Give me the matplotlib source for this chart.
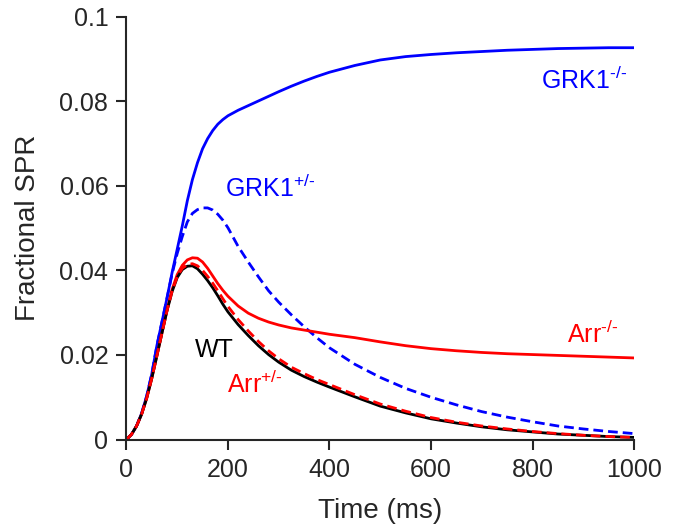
import matplotlib
matplotlib.use("Agg")
import matplotlib.pyplot as plt

plt.rcParams["font.family"] = ["Liberation Sans", "DejaVu Sans"]
plt.rcParams["mathtext.fontset"] = "custom"
plt.rcParams["mathtext.rm"] = "Liberation Sans"
plt.rcParams["mathtext.it"] = "Liberation Sans"

# time points (ms)
t = [0, 10, 20, 30, 40, 50, 60, 70, 80, 90, 100, 110, 120, 130, 140, 150, 160,
     170, 180, 190, 200, 220, 240, 260, 280, 300, 325, 350, 375, 400, 450, 500,
     550, 600, 650, 700, 750, 800, 850, 900, 950, 1000]

grk1_ko = [0, 0.0012, 0.0032, 0.0062, 0.0103, 0.0155, 0.0222, 0.0278, 0.0335,
           0.0395, 0.0450, 0.0505, 0.0565, 0.0615, 0.0655, 0.0688, 0.0712,
           0.0731, 0.0746, 0.0757, 0.0766, 0.0779, 0.0790, 0.0801, 0.0812,
           0.0823, 0.0836, 0.0848, 0.0859, 0.0869, 0.0885, 0.0898, 0.0906,
           0.0911, 0.0915, 0.0918, 0.0921, 0.0923, 0.0925, 0.0926, 0.0927,
           0.0927]

grk1_het = [0, 0.0012, 0.0032, 0.0062, 0.0103, 0.0155, 0.0222, 0.0278, 0.0335,
            0.0392, 0.0440, 0.0480, 0.0515, 0.0535, 0.0544, 0.0548, 0.0548,
            0.0543, 0.0533, 0.0519, 0.0501, 0.0457, 0.0420, 0.0385, 0.0352,
            0.0325, 0.0295, 0.0267, 0.0241, 0.0217, 0.0178, 0.0147, 0.0121,
            0.0100, 0.0082, 0.0066, 0.0053, 0.0042, 0.0032, 0.0025, 0.0019,
            0.0014]

wt = [0, 0.0012, 0.0032, 0.0060, 0.0098, 0.0145, 0.0198, 0.0252, 0.0305,
      0.0350, 0.0383, 0.0402, 0.0410, 0.0411, 0.0404, 0.0391, 0.0376, 0.0359,
      0.0340, 0.0320, 0.0302, 0.0272, 0.0246, 0.0222, 0.0201, 0.0183, 0.0164,
      0.0149, 0.0136, 0.0124, 0.0101, 0.0079, 0.0063, 0.0049, 0.0039, 0.0030,
      0.0023, 0.0018, 0.0013, 0.0010, 0.0007, 0.0005]

arr_het = [0, 0.0012, 0.0032, 0.0060, 0.0098, 0.0145, 0.0198, 0.0252, 0.0305,
           0.0351, 0.0385, 0.0405, 0.0414, 0.0416, 0.0411, 0.0400, 0.0386,
           0.0370, 0.0352, 0.0333, 0.0315, 0.0284, 0.0257, 0.0232, 0.0210,
           0.0191, 0.0171, 0.0156, 0.0142, 0.0130, 0.0106, 0.0084, 0.0067,
           0.0052, 0.0041, 0.0032, 0.0025, 0.0019, 0.0014, 0.0010, 0.0007,
           0.0005]

arr_ko = [0, 0.0012, 0.0032, 0.0060, 0.0098, 0.0145, 0.0198, 0.0252, 0.0306,
          0.0355, 0.0390, 0.0412, 0.0425, 0.0430, 0.0429, 0.0420, 0.0405,
          0.0387, 0.0369, 0.0353, 0.0339, 0.0316, 0.0299, 0.0287, 0.0278,
          0.0271, 0.0264, 0.0259, 0.0254, 0.0249, 0.0241, 0.0231, 0.0222,
          0.0215, 0.0210, 0.0206, 0.0203, 0.0201, 0.0199, 0.0197, 0.0195,
          0.0193]

dark = "#262626"
dash = (0, (3.5, 1.8))

fig = plt.figure(figsize=(6.76, 5.27), dpi=100)
ax = fig.add_axes([0.187, 0.166, 0.751, 0.802])

ax.plot(t, grk1_ko, color="blue", lw=2)
ax.plot(t, grk1_het, color="blue", lw=2, ls=dash)
ax.plot(t, arr_ko, color="red", lw=2)
ax.plot(t, wt, color="black", lw=2)
ax.plot(t, arr_het, color="red", lw=2, ls=dash)

fs = 18
ax.text(816, 0.0829, r"GRK1$^{\text{-/-}}$", color="blue", fontsize=fs, va="baseline")
ax.text(194, 0.0573, r"GRK1$^{\text{+/-}}$", color="blue", fontsize=fs, va="baseline")
ax.text(867, 0.0229, r"Arr$^{\text{-/-}}$", color="red", fontsize=fs, va="baseline")
ax.text(135, 0.0196, "WT", color="black", fontsize=fs, va="baseline")
ax.text(198, 0.0110, r"Arr$^{\text{+/-}}$", color="red", fontsize=fs, va="baseline")

ax.set_xlim(0, 1000)
ax.set_ylim(0, 0.1)
ax.set_xticks([0, 200, 400, 600, 800, 1000])
ax.set_yticks([0, 0.02, 0.04, 0.06, 0.08, 0.1])
ax.set_yticklabels(["0", "0.02", "0.04", "0.06", "0.08", "0.1"])
ax.set_xlabel("Time (ms)", fontsize=20, color=dark, labelpad=12)
ax.set_ylabel("Fractional SPR", fontsize=20, color=dark, labelpad=13)

for s in ["top", "right"]:
    ax.spines[s].set_visible(False)
for s in ["left", "bottom"]:
    ax.spines[s].set_linewidth(1.5)
    ax.spines[s].set_color(dark)
ax.tick_params(direction="out", length=7, width=1.5, colors=dark,
               labelsize=18, pad=6)

fig.savefig("out.png", dpi=100)
